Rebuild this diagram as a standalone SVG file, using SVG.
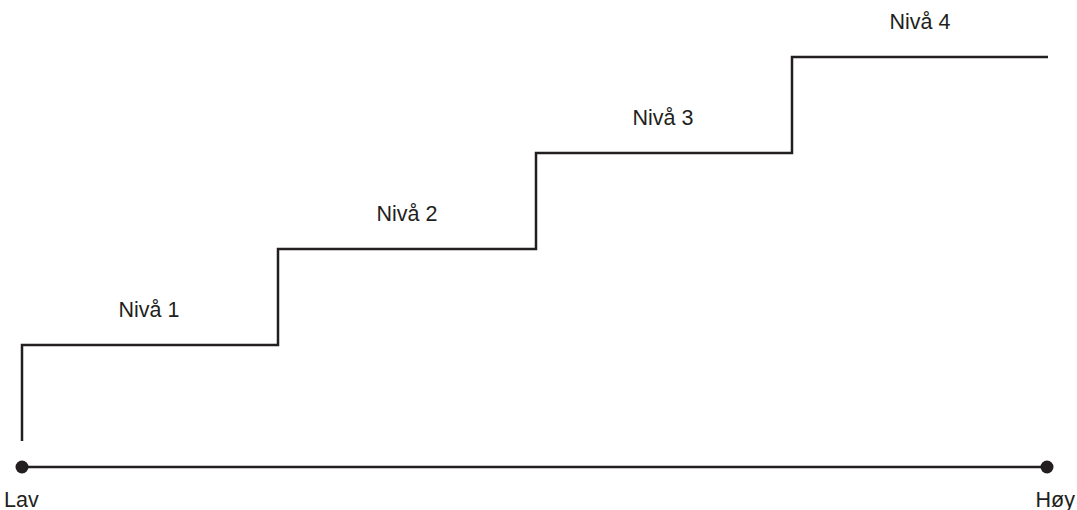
<svg xmlns="http://www.w3.org/2000/svg" width="1077" height="510" viewBox="0 0 1077 510">
<style>
.ln{fill:none;stroke:#231f20;stroke-width:2.5}
.t{font-family:"Liberation Sans",Arial,sans-serif;font-size:21.5px;fill:#231f20}
.d{fill:#231f20}
</style>
<rect width="1077" height="510" fill="#fff"/>
<g id="connectors">
<path id="stairs" class="ln" d="M22,441 V345 H278 V249 H536 V153 H792 V57 H1048"/>
<line id="axis" class="ln" x1="22" y1="467" x2="1047" y2="467"/>
</g>
<g id="low"><circle class="d" cx="22" cy="467" r="6.5"/><text class="t" x="4" y="507">Lav</text></g>
<g id="high"><circle class="d" cx="1047" cy="467" r="6.5"/><text class="t" x="1075" y="507" text-anchor="end">Høy</text></g>
<g id="level1"><text class="t" x="149" y="317" text-anchor="middle">Nivå 1</text></g>
<g id="level2"><text class="t" x="407" y="221" text-anchor="middle">Nivå 2</text></g>
<g id="level3"><text class="t" x="663" y="125" text-anchor="middle">Nivå 3</text></g>
<g id="level4"><text class="t" x="920" y="29" text-anchor="middle">Nivå 4</text></g>
</svg>
